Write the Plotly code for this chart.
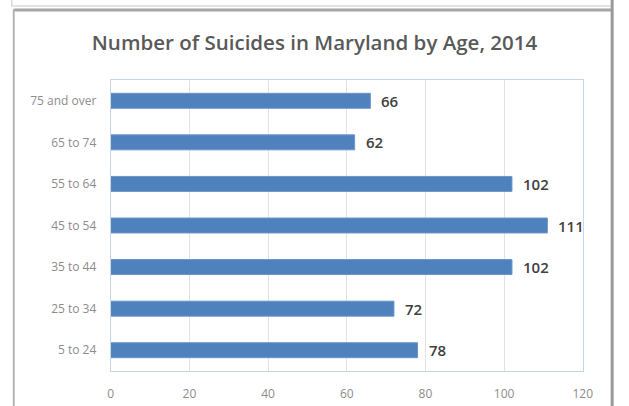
import plotly.graph_objects as go

categories = ["5 to 24", "25 to 34", "35 to 44", "45 to 54", "55 to 64", "65 to 74", "75 and over"]
values = [78, 72, 102, 111, 102, 62, 66]
x_ticks = [0, 20, 40, 60, 80, 100, 120]
title_text = "Number of Suicides in Maryland by Age, 2014"

W, H = 629, 406
px = lambda v: v / W
py = lambda v: 1 - v / H

fig = go.Figure()
fig.add_trace(go.Bar(
    y=categories, x=values, orientation="h",
    marker=dict(color="#4f81bd", line=dict(color="#6a95c9", width=1)),
    width=0.36,
))

# data labels placed from the data values
for c, v in zip(categories, values):
    fig.add_annotation(x=v, y=c, xref="x", yref="y", text=str(v), showarrow=False,
                       xanchor="left", yanchor="middle", xshift=9,
                       font=dict(family="Open Sans", size=15, color="#404040", weight=600))

frame = "#a6a6a6"
shapes = [
    dict(type="line", xref="paper", yref="paper", x0=px(9), x1=px(623), y0=py(6), y1=py(6), line=dict(color="#c8c8c8", width=1)),
    dict(type="line", xref="paper", yref="paper", x0=px(9), x1=px(9), y0=py(0), y1=py(6), line=dict(color="#c8c8c8", width=1)),
    dict(type="line", xref="paper", yref="paper", x0=px(11), x1=px(623), y0=py(10), y1=py(10), line=dict(color=frame, width=3)),
    dict(type="line", xref="paper", yref="paper", x0=px(11), x1=px(11), y0=py(9), y1=py(406), line=dict(color="#b4b4b4", width=2)),
    dict(type="line", xref="paper", yref="paper", x0=px(622), x1=px(622), y0=py(0), y1=py(406), line=dict(color="#9a9a9a", width=3)),
]

fig.update_layout(
    width=W, height=H, autosize=False,
    margin=dict(l=0, r=0, t=0, b=0),
    paper_bgcolor="white", plot_bgcolor="white",
    showlegend=False,
    shapes=shapes,
    title=dict(text=title_text, x=0.5, xanchor="center", y=py(43), yanchor="middle",
               font=dict(family="Open Sans", size=20.5, color="#595959", weight=600)),
    xaxis=dict(domain=[px(110), px(592)], range=[0, 120], tickvals=x_ticks,
               showgrid=True, gridcolor="#e3e3e3", gridwidth=1, zeroline=False,
               ticks="outside", ticklen=12, tickcolor="rgba(0,0,0,0)",
               tickfont=dict(family="Open Sans", size=12, color="#8c8c8c"),
               showline=True, linecolor="#c5d5ea", mirror=True, linewidth=1),
    yaxis=dict(domain=[py(371), py(80)], categoryorder="array", categoryarray=categories,
               ticks="outside", ticklen=11, tickcolor="rgba(0,0,0,0)",
               tickfont=dict(family="Open Sans", size=12, color="#8c8c8c"),
               showline=True, linecolor="#c5d5ea", mirror=True, linewidth=1, showgrid=False),
)

fig.write_html("out.html", config={"responsive": False})
